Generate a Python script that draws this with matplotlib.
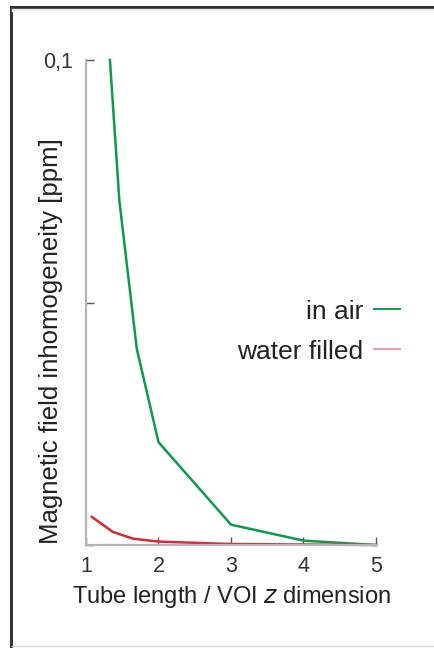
import matplotlib
matplotlib.use("Agg")
import matplotlib.pyplot as plt
from matplotlib.lines import Line2D

plt.rcParams['font.family'] = ['Liberation Sans', 'DejaVu Sans']

# Data
air_x = [1.33, 1.46, 1.70, 2.0, 3.0, 4.0, 5.0]
air_y = [0.100, 0.071, 0.0405, 0.0212, 0.0042, 0.0009, 0.0]
water_x = [1.08, 1.37, 1.65, 2.0, 3.0, 4.0, 5.0]
water_y = [0.0058, 0.0027, 0.0013, 0.0007, 0.0002, 0.0001, 0.0]
series_labels = ["in air", "water filled"]
x_ticks = [1, 2, 3, 4, 5]
y_ticks = [0.0, 0.05, 0.1]
y_tick_labels = ["", "", "0,1"]

W, H = 435, 648
fig = plt.figure(figsize=(W / 100, H / 100), dpi=100)
fig.patch.set_facecolor("white")

# outer frame
fig.add_artist(Line2D([11 / W, 11 / W], [1 - 7 / H, 0], transform=fig.transFigure,
                      color="#333333", lw=2.2))
fig.add_artist(Line2D([11 / W, 1], [1 - 7 / H, 1 - 7 / H], transform=fig.transFigure,
                      color="#333333", lw=2.2))
for i, c in enumerate(["#e4e4e4", "#eeeeee", "#f5f5f5"]):
    fig.add_artist(Line2D([12 / W, 1], [1 - (9 + i) / H] * 2, transform=fig.transFigure,
                          color=c, lw=1))
fig.add_artist(Line2D([12 / W, 1], [1 - 646 / H] * 2, transform=fig.transFigure,
                      color="#d8d8d8", lw=1))

ax = fig.add_axes([86 / W, 1 - 545 / H, 290 / W, 485 / H])
green = "#0e9a4e"
red = "#d9283c"
l1, = ax.plot(air_x, air_y, color=green, lw=1.8, label=series_labels[0], clip_on=False)
l2, = ax.plot(water_x, water_y, color=red, lw=1.8, label=series_labels[1], clip_on=False)

ax.set_xlim(1, 5)
ax.set_ylim(0, 0.1)
for s in ["top", "right"]:
    ax.spines[s].set_visible(False)
for s in ["left", "bottom"]:
    ax.spines[s].set_color("#b5b5b5")
    ax.spines[s].set_linewidth(1.6)

ax.set_xticks(x_ticks)
ax.set_xticklabels([str(v) for v in x_ticks])
ax.set_yticks(y_ticks)
ax.set_yticklabels(y_tick_labels)
ax.tick_params(axis="both", direction="in", length=6, width=1, color="#555555",
               labelsize=15.5, labelcolor="#333333")
ax.tick_params(axis="x", pad=8)
ax.tick_params(axis="y", pad=9)

ax.set_xlabel("Tube length / VOI $\\mathit{z}$ dimension", fontsize=17, color="#222222",
              labelpad=5)
ax.set_ylabel("Magnetic field inhomogeneity [ppm]", fontsize=18.5, color="#222222")
ax.yaxis.set_label_coords(-0.08, 0.421)

leg = ax.legend(loc="center right", bbox_to_anchor=(1.165, 0.44), frameon=False,
                markerfirst=False, fontsize=19, handlelength=1.0, handletextpad=0.4,
                labelspacing=0.6, labelcolor="#222222")
for h in leg.legend_handles:
    h.set_linewidth(1.4)
leg.legend_handles[1].set_alpha(0.45)

fig.savefig("out.png", dpi=100, facecolor="white")
